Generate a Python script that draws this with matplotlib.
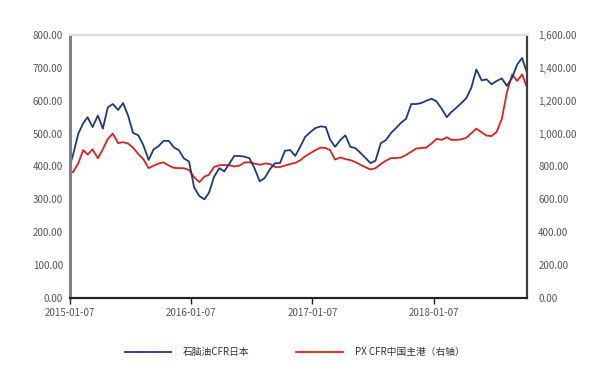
import pandas as pd
import matplotlib.pyplot as plt
import matplotlib.dates as mdates
from matplotlib.ticker import FuncFormatter, MultipleLocator

plt.rcParams['font.family'] = ['Noto Sans CJK SC', 'DejaVu Sans']

# semi-monthly observations, 2015-01-07 .. 2018-10-16
dates = ['2015-01-07'] + [f'{y}-{m:02d}-{d:02d}' for y in range(2015, 2019)
                          for m in range(1, 13) for d in (1, 16)
                          if '2015-01-16' <= f'{y}-{m:02d}-{d:02d}' <= '2018-10-16']

naphtha = [405, 435, 500, 532, 550, 520, 555, 515, 580, 590, 572, 593, 555, 502,
           495, 465, 420, 452, 462, 478, 478, 458, 450, 425,
           415, 337, 310, 300, 320, 368, 395, 385, 408, 432, 432, 430, 425, 395,
           355, 365, 392, 410, 410, 448, 450, 432, 460, 490,
           505, 517, 522, 520, 482, 460, 480, 495, 460, 456, 441, 426, 410, 418,
           471, 480, 502, 517, 533, 545, 590, 590, 593, 600,
           606, 598, 575, 550, 565, 578, 593, 608, 640, 695, 662, 665, 650, 660,
           668, 645, 670, 710, 730, 684]

px = [770, 765, 820, 900, 872, 905, 850, 905, 968, 1000, 942, 948, 940, 915,
      875, 845, 790, 805, 818, 825, 805, 792, 790, 790,
      778, 735, 705, 738, 750, 797, 808, 809, 808, 800, 806, 824, 826, 818,
      810, 818, 815, 797, 797, 806, 815, 822, 838, 862,
      882, 900, 915, 912, 900, 842, 855, 845, 839, 827, 810, 795, 782, 790,
      815, 835, 851, 851, 855, 870, 890, 910, 912, 915,
      940, 968, 962, 978, 962, 962, 965, 975, 1003, 1030, 1008, 988, 985, 1010,
      1090, 1250, 1360, 1320, 1360, 1280]

tick_dates = ['2015-01-07', '2016-01-07', '2017-01-07', '2018-01-07']

df = pd.DataFrame({'date': pd.to_datetime(dates), 'naphtha': naphtha, 'px': px})

blue = '#1b3a7e'
red = '#e0201e'
tick_color = '#555555'

fig = plt.figure(figsize=(6.01, 3.79), dpi=100)
ax = fig.add_axes([0.1165, 0.2137, 0.7605, 0.694])
ax2 = ax.twinx()

l1, = ax.plot(df['date'], df['naphtha'], color=blue, linewidth=1.3, label='石脑油CFR日本')
l2, = ax2.plot(df['date'], df['px'], color=red, linewidth=1.3, label='PX CFR中国主港（右轴）')
ax.set_zorder(ax2.get_zorder() + 1)
ax.patch.set_visible(False)

ax.set_xlim(df['date'].iloc[0], df['date'].iloc[-1])
ax.set_ylim(0, 800)
ax2.set_ylim(0, 1600)
ax.yaxis.set_major_locator(MultipleLocator(100))
ax2.yaxis.set_major_locator(MultipleLocator(200))
ax.yaxis.set_major_formatter(FuncFormatter(lambda v, p: f'{v:,.2f}'))
ax2.yaxis.set_major_formatter(FuncFormatter(lambda v, p: f'{v:,.2f}'))

ax.set_xticks(pd.to_datetime(tick_dates))
ax.xaxis.set_major_formatter(mdates.DateFormatter('%Y-%m-%d'))

ax.tick_params(axis='y', length=0, labelsize=7, colors=tick_color, pad=5)
ax2.tick_params(axis='y', length=0, labelsize=7, colors=tick_color, pad=8)
ax.tick_params(axis='x', length=4, width=1, direction='out', labelsize=7,
               colors='#222222', labelcolor=tick_color, pad=3)

for a in (ax, ax2):
    a.spines['left'].set_color('#808080')
    a.spines['left'].set_linewidth(2)
    a.spines['right'].set_color('#404040')
    a.spines['right'].set_linewidth(1.5)
    a.spines['top'].set_color('#dddddd')
    a.spines['top'].set_linewidth(1.5)
    a.spines['bottom'].set_color('#222222')
    a.spines['bottom'].set_linewidth(1.5)

fig.legend(handles=[l1, l2], loc='center', bbox_to_anchor=(0.49, 0.071), ncol=2,
           frameon=False, fontsize=7, handlelength=4.8, handletextpad=1.2,
           columnspacing=4.8, labelcolor='#333333')

fig.savefig('out.png', dpi=100)
